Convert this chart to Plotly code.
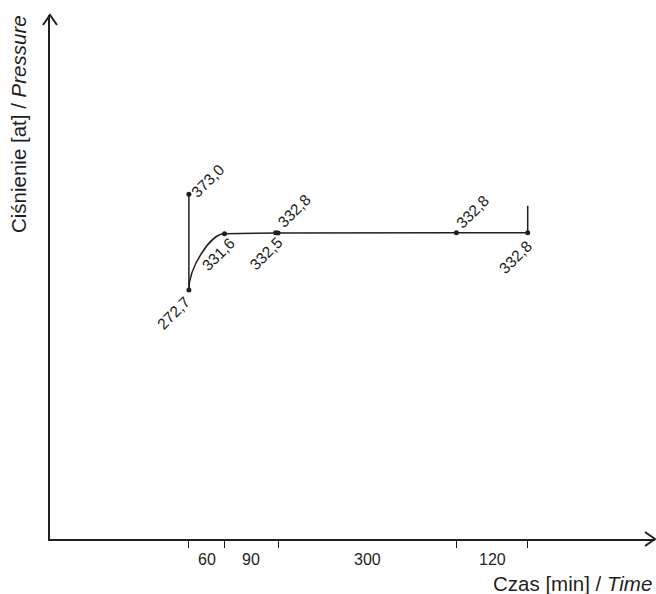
import plotly.graph_objects as go

# ---- data ----
segment_minutes = [60, 90, 300, 120]          # labelled durations on the time axis
boundary_minutes = [0, 60, 150, 450, 570]     # tick positions (cumulative)
point_minutes = [0, 0, 60, 146, 150, 450, 570]
point_pressure = [373.0, 272.7, 331.6, 332.8, 332.5, 332.8, 332.8]
point_labels = ["373,0", "272,7", "331,6", "332,8", "332,5", "332,8", "332,8"]
end_stroke_pressure = 361.0                   # top of the final vertical stroke

# ---- styles ----
INK = "#231f20"
FONT = "Liberation Sans, Arial, sans-serif"
# label centre offsets (px) relative to each point: (dx, dy_up)
label_offsets = [(19, 14), (-15, -22.5), (-6.5, -20.7), (19, 21.7),
                 (-12, -21), (16.4, 21.3), (-12.7, -24.7)]

fig = go.Figure()

# initial vertical drop 373,0 -> 272,7
fig.add_trace(go.Scatter(x=point_minutes[0:2], y=point_pressure[0:2], mode="lines",
                         line=dict(color=INK, width=1.5), hoverinfo="skip"))

# recovery curve 272,7 -> 331,6 (cubic Bezier in data coordinates)
x0, y0 = point_minutes[1], point_pressure[1]
x1, y1 = point_minutes[2], point_pressure[2]
k = 0.4
path = (f"M{x0},{y0} C{x0},{y0 + k*(y1-y0)} {x1 - k*(x1-x0)},{y1} {x1},{y1}")
fig.add_shape(type="path", path=path, xref="x", yref="y",
              line=dict(color=INK, width=1.5), layer="above")

# plateau and final stroke
fig.add_trace(go.Scatter(x=point_minutes[2:] + [point_minutes[-1]],
                         y=point_pressure[2:] + [end_stroke_pressure],
                         mode="lines", line=dict(color=INK, width=1.5), hoverinfo="skip"))

# point markers
fig.add_trace(go.Scatter(x=point_minutes, y=point_pressure, mode="markers",
                         marker=dict(color=INK, size=5), hoverinfo="skip"))

# point labels
for xm, yp, lab, (dx, dy) in zip(point_minutes, point_pressure, point_labels, label_offsets):
    fig.add_annotation(x=xm, y=yp, xref="x", yref="y", text=lab, showarrow=False,
                       textangle=-45, xanchor="center", yanchor="middle",
                       xshift=dx, yshift=dy, font=dict(family=FONT, size=15.5, color=INK))

# segment duration labels under the axis
for i, seg in enumerate(segment_minutes):
    mid = (boundary_minutes[i] + boundary_minutes[i + 1]) / 2
    fig.add_annotation(x=mid, y=0, xref="x", yref="paper", text=str(seg), showarrow=False,
                       xanchor="center", yanchor="middle", yshift=-20,
                       font=dict(family=FONT, size=16, color=INK))

# axis titles
fig.add_annotation(x=1, y=0, xref="paper", yref="paper", text="Czas [min] / <i>Time</i>",
                   showarrow=False, xanchor="right", yanchor="middle", yshift=-44, xshift=-1,
                   font=dict(family=FONT, size=20.5, color=INK))
fig.add_annotation(x=0, y=1, xref="paper", yref="paper",
                   text="Ciśnienie [at] / <i>Pressure</i>", showarrow=False,
                   textangle=-90, xanchor="center", yanchor="top", xshift=-32, yshift=2,
                   font=dict(family=FONT, size=20.5, color=INK))

# axis arrowheads
fig.add_shape(type="path", xref="paper", yref="paper", xsizemode="pixel", ysizemode="pixel",
              xanchor=0, yanchor=1, path="M-7,-10 L0,0 L7,-10",
              line=dict(color=INK, width=2))
fig.add_shape(type="path", xref="paper", yref="paper", xsizemode="pixel", ysizemode="pixel",
              xanchor=1, yanchor=0, path="M-10,7 L0,0 L-10,-7",
              line=dict(color=INK, width=2))

# pixel mapping: t=0 -> x=188.9, 0.5944 px/min; plot area x 50..655
px_per_min = 0.5944
x_start = -(188.9 - 50) / px_per_min
x_end = x_start + 605 / px_per_min
px_per_at = 0.954
y_start = 272.7 - (539 - 290) / px_per_at
y_end = y_start + 524 / px_per_at

fig.update_layout(
    width=656, height=594, autosize=False,
    margin=dict(l=50, r=1, t=15, b=55, pad=0),
    paper_bgcolor="white", plot_bgcolor="white",
    showlegend=False,
    xaxis=dict(range=[x_start, x_end], tickvals=boundary_minutes, showticklabels=False,
               ticks="outside", ticklen=7, tickwidth=1, tickcolor=INK,
               showline=True, linecolor=INK, linewidth=1.5,
               showgrid=False, zeroline=False, fixedrange=True),
    yaxis=dict(range=[y_start, y_end], showticklabels=False, ticks="",
               showline=True, linecolor=INK, linewidth=1.5,
               showgrid=False, zeroline=False, fixedrange=True),
)

fig.write_html("out.html", config={"displayModeBar": False},
               post_script="document.body.style.margin='0';")
